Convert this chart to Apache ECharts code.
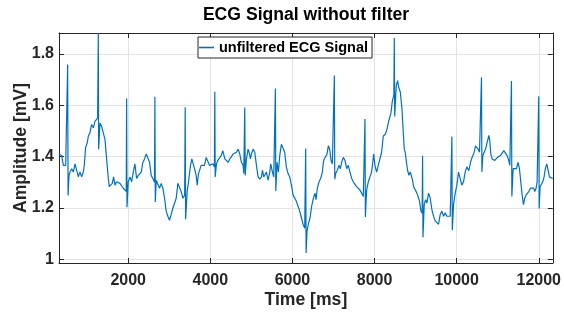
<!DOCTYPE html>
<html>
<head>
<meta charset="utf-8">
<script src="https://cdn.jsdelivr.net/npm/echarts@6/dist/echarts.min.js"></script>
<style>
  html, body { margin: 0; padding: 0; background: #fff; }
  #chart { width: 564px; height: 314px; }
</style>
</head>
<body>
<div id="chart"></div>
<script>
// time axis (ms) and amplitude (mV)
var timeMs = [
  314, 345, 379, 420, 477, 501, 520, 525, 535, 558, 582, 623, 663, 704, 744, 785, 825, 866, 906, 930,
  963, 1004, 1028, 1069, 1109, 1150, 1190, 1231, 1255, 1271, 1280, 1312, 1352, 1393, 1434, 1474, 1515, 1539, 1579, 1612,
  1644, 1677, 1717, 1758, 1798, 1839, 1880, 1920, 1952, 1961, 1970, 2001, 2042, 2082, 2123, 2163, 2204, 2245,
  2277, 2317, 2358, 2398, 2439, 2479, 2520, 2560, 2601, 2640, 2650, 2660, 2682, 2723, 2763, 2804, 2844, 2885, 2925, 2966,
  3006, 3047, 3088, 3128, 3169, 3209, 3250, 3290, 3331, 3375, 3388, 3398, 3436, 3469, 3517, 3550, 3582, 3615, 3655, 3680,
  3712, 3744, 3777, 3817, 3858, 3899, 3939, 3980, 4020, 4061, 4100, 4109, 4119, 4150, 4182, 4223, 4264, 4304,
  4353, 4393, 4434, 4474, 4515, 4555, 4596, 4637, 4677, 4718, 4758, 4799, 4815, 4839, 4849, 4880, 4920, 4945, 4977, 5001,
  5042, 5083, 5123, 5164, 5204, 5245, 5269, 5302, 5326, 5366, 5407, 5448, 5472, 5512, 5545, 5575, 5585, 5595, 5626, 5658,
  5691, 5731, 5772, 5812, 5853, 5894, 5934, 5975, 6015, 6056, 6096, 6137, 6177, 6218, 6259, 6299,
  6313, 6323, 6333, 6356, 6388, 6429, 6469, 6510, 6550, 6575, 6607, 6648, 6688, 6729, 6753, 6777, 6810, 6842, 6875, 6907,
  6940, 6972, 7011, 7021, 7031, 7053, 7094, 7134, 7167, 7199, 7240, 7280, 7321, 7361, 7402, 7443, 7483, 7524, 7564, 7605,
  7645, 7686, 7726, 7757, 7767, 7777, 7807, 7848, 7889, 7929, 7953, 7978, 8010, 8051, 8091, 8132, 8172, 8213,
  8262, 8302, 8343, 8367, 8399, 8432, 8471, 8481, 8491, 8529, 8562, 8586, 8627, 8667, 8691, 8724, 8748, 8772, 8805, 8837,
  8870, 8894, 8927, 8951, 8991, 9032, 9073, 9097, 9129, 9160, 9170, 9180, 9210, 9243, 9275, 9316, 9356, 9397, 9438, 9478,
  9519, 9559, 9600, 9640, 9681, 9721, 9762, 9802, 9843, 9874, 9884, 9894, 9924, 9965, 10005, 10046, 10086, 10127, 10167, 10208, 10249,
  10297, 10338, 10362, 10394, 10427, 10459, 10500, 10524, 10557, 10595, 10605, 10615, 10638, 10670, 10703, 10743, 10784, 10808, 10832, 10865,
  10905, 10930, 10962, 10995, 11027, 11068, 11108, 11149, 11189, 11230, 11270, 11295, 11325, 11335, 11345, 11376, 11416, 11457, 11497, 11530,
  11562, 11595, 11627, 11660, 11692, 11724, 11757, 11797, 11838, 11879, 11903, 11935, 11960, 11990, 12000, 12010, 12033, 12065, 12098, 12130,
  12162, 12195, 12227, 12260, 12292, 12341
];
var amplitudeMv = [
  1.410, 1.404, 1.404, 1.366, 1.366, 1.359, 1.359, 1.758, 1.249, 1.327, 1.340, 1.353, 1.340, 1.372, 1.378, 1.321, 1.340, 1.321, 1.340, 1.366,
  1.436, 1.455, 1.480, 1.493, 1.525, 1.512, 1.537, 1.544, 1.550, 1.881, 1.429, 1.531, 1.518, 1.512, 1.467, 1.391, 1.315, 1.283, 1.277, 1.296,
  1.321, 1.289, 1.302, 1.308, 1.296, 1.302, 1.277, 1.270, 1.265, 1.626, 1.203, 1.302, 1.321, 1.302, 1.340, 1.372, 1.315, 1.327,
  1.321, 1.340, 1.378, 1.391, 1.410, 1.404, 1.378, 1.327, 1.315, 1.300, 1.633, 1.223, 1.308, 1.302, 1.277, 1.296, 1.277, 1.238, 1.188, 1.168,
  1.152, 1.175, 1.200, 1.203, 1.238, 1.296, 1.289, 1.264, 1.238, 1.250, 1.592, 1.156, 1.264, 1.302, 1.366, 1.391, 1.372, 1.353, 1.327, 1.289,
  1.334, 1.340, 1.366, 1.372, 1.366, 1.397, 1.391, 1.366, 1.359, 1.372, 1.360, 1.652, 1.321, 1.372, 1.385, 1.378, 1.404, 1.423,
  1.391, 1.397, 1.378, 1.391, 1.397, 1.410, 1.404, 1.417, 1.429, 1.410, 1.378, 1.366, 1.334, 1.591, 1.327, 1.391, 1.429, 1.417, 1.391, 1.410,
  1.429, 1.417, 1.366, 1.321, 1.312, 1.321, 1.347, 1.321, 1.315, 1.340, 1.308, 1.340, 1.372, 1.340, 1.321, 1.315, 1.665, 1.266, 1.378, 1.340,
  1.404, 1.448, 1.455, 1.417, 1.359, 1.334, 1.321, 1.289, 1.251, 1.244, 1.226, 1.207, 1.188, 1.162, 1.137, 1.121,
  1.115, 1.432, 1.025, 1.111, 1.137, 1.162, 1.207, 1.238, 1.258, 1.232, 1.277, 1.302, 1.315, 1.340, 1.378, 1.391, 1.385, 1.410, 1.442, 1.429,
  1.385, 1.372, 1.370, 1.716, 1.312, 1.334, 1.347, 1.366, 1.353, 1.378, 1.397, 1.385, 1.353, 1.366, 1.340, 1.315, 1.302, 1.296, 1.283, 1.277,
  1.270, 1.258, 1.245, 1.240, 1.546, 1.165, 1.270, 1.302, 1.321, 1.340, 1.372, 1.410, 1.366, 1.340, 1.366, 1.359, 1.417, 1.480,
  1.487, 1.506, 1.537, 1.531, 1.569, 1.614, 1.640, 1.862, 1.556, 1.677, 1.696, 1.671, 1.652, 1.588, 1.518, 1.429, 1.417, 1.385, 1.347, 1.327,
  1.340, 1.327, 1.308, 1.283, 1.277, 1.258, 1.238, 1.226, 1.188, 1.180, 1.403, 1.086, 1.213, 1.232, 1.219, 1.258, 1.238, 1.194, 1.168, 1.149,
  1.143, 1.137, 1.175, 1.188, 1.168, 1.181, 1.168, 1.175, 1.168, 1.170, 1.478, 1.114, 1.213, 1.258, 1.289, 1.340, 1.347, 1.289, 1.302, 1.340, 1.360,
  1.345, 1.378, 1.391, 1.397, 1.417, 1.442, 1.448, 1.429, 1.417, 1.410, 1.709, 1.340, 1.404, 1.417, 1.429, 1.455, 1.483, 1.461, 1.410, 1.391,
  1.397, 1.385, 1.391, 1.397, 1.397, 1.404, 1.410, 1.423, 1.423, 1.404, 1.385, 1.366, 1.360, 1.694, 1.245, 1.353, 1.347, 1.353, 1.378, 1.353,
  1.302, 1.251, 1.213, 1.238, 1.251, 1.258, 1.264, 1.277, 1.270, 1.277, 1.264, 1.277, 1.302, 1.300, 1.635, 1.198, 1.283, 1.289, 1.302, 1.321,
  1.353, 1.372, 1.347, 1.321, 1.315, 1.315
];
var xTicks = [2000, 4000, 6000, 8000, 10000, 12000];
var yTicks = [1, 1.2, 1.4, 1.6, 1.8];
var xRange = [314, 12341];
var yRange = [0.986, 1.881];

var font = 'Liberation Sans, Arial, Helvetica, sans-serif';
var axisColor = '#262626';

var chart = echarts.init(document.getElementById('chart'));
var points = timeMs.map(function (t, i) { return [t, amplitudeMv[i]]; });

function plain(v) { return String(v); }

chart.setOption({
  animation: false,
  title: {
    text: 'ECG Signal without filter',
    left: 306,
    top: 6,
    padding: 0,
    textAlign: 'center',
    textStyle: { fontFamily: font, fontSize: 17.6, fontWeight: 'bold', color: '#000' }
  },
  legend: {
    data: [{ name: 'unfiltered ECG Signal', icon: 'rect' }],
    left: 198,
    top: 37,
    padding: [3, 4, 3, 1],
    itemWidth: 15,
    itemHeight: 1.6,
    backgroundColor: '#fff',
    borderColor: axisColor,
    borderWidth: 1,
    borderRadius: 0,
    textStyle: { fontFamily: font, fontSize: 14.5, fontWeight: 'bold', color: '#000' }
  },
  grid: { left: 59, top: 33, right: 11, bottom: 47 },
  xAxis: [{
    type: 'value',
    min: xRange[0],
    max: xRange[1],
    position: 'bottom',
    name: 'Time [ms]',
    nameLocation: 'middle',
    nameGap: 28,
    nameMoveOverlap: false,
    nameTextStyle: { fontFamily: font, fontSize: 17.6, fontWeight: 'bold', color: axisColor },
    axisLine: { show: true, lineStyle: { color: axisColor, width: 1 } },
    axisTick: { show: true, inside: true, length: 5, customValues: xTicks, lineStyle: { color: axisColor } },
    axisLabel: { customValues: xTicks, formatter: plain, margin: 10, fontFamily: font, fontSize: 16, fontWeight: 'bold', color: axisColor },
    splitLine: { show: true, lineStyle: { color: '#e3e3e3', width: 1 } }
  }, {
    type: 'value',
    min: xRange[0],
    max: xRange[1],
    position: 'top',
    axisLine: { show: true, onZero: false, lineStyle: { color: axisColor, width: 1 } },
    axisTick: { show: true, inside: true, length: 5, customValues: xTicks, lineStyle: { color: axisColor } },
    axisLabel: { show: false },
    splitLine: { show: false }
  }],
  yAxis: [{
    type: 'value',
    min: yRange[0],
    max: yRange[1],
    position: 'left',
    name: 'Amplitude [mV]',
    nameLocation: 'middle',
    nameGap: 29,
    nameMoveOverlap: false,
    nameTextStyle: { fontFamily: font, fontSize: 17.6, fontWeight: 'bold', color: axisColor },
    axisLine: { show: true, lineStyle: { color: axisColor, width: 1 } },
    axisTick: { show: true, inside: true, length: 5, customValues: yTicks, lineStyle: { color: axisColor } },
    axisLabel: { customValues: yTicks, formatter: plain, margin: 5, fontFamily: font, fontSize: 16, fontWeight: 'bold', color: axisColor },
    splitLine: { show: true, lineStyle: { color: '#e3e3e3', width: 1 } }
  }, {
    type: 'value',
    min: yRange[0],
    max: yRange[1],
    position: 'right',
    axisLine: { show: true, onZero: false, lineStyle: { color: axisColor, width: 1 } },
    axisTick: { show: true, inside: true, length: 5, customValues: yTicks, lineStyle: { color: axisColor } },
    axisLabel: { show: false },
    splitLine: { show: false }
  }],
  series: [{
    name: 'unfiltered ECG Signal',
    type: 'line',
    xAxisIndex: 0,
    yAxisIndex: 0,
    data: points,
    symbol: 'none',
    clip: true,
    lineStyle: { color: '#0072BD', width: 1.2 },
    itemStyle: { color: '#0072BD' }
  }]
});
</script>
</body>
</html>
